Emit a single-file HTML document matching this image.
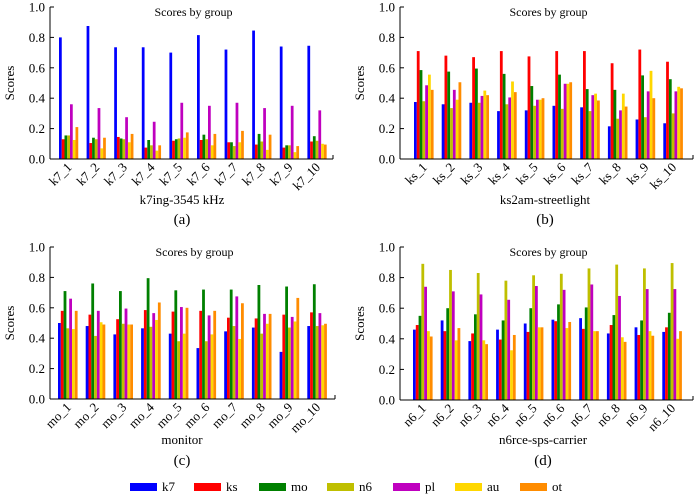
<!DOCTYPE html>
<html><head><meta charset="utf-8"><style>
html,body{margin:0;padding:0;background:#fff;}
svg{display:block;font-family:"Liberation Serif",serif;}
</style></head><body>
<svg id="chart" width="700" height="498" viewBox="0 0 700 498"></svg>
<script>
const series = ["k7","ks","mo","n6","pl","au","ot"];
const colors = ["#0000ff","#ff0000","#008000","#bfbf00","#bf00bf","#ffd700","#ff8c00"];
const yTicks = [0,0.2,0.4,0.6,0.8,1.0];
const catsA = ["k7_1","k7_2","k7_3","k7_4","k7_5","k7_6","k7_7","k7_8","k7_9","k7_10"];
const catsB = ["ks_1","ks_2","ks_3","ks_4","ks_5","ks_6","ks_7","ks_8","ks_9","ks_10"];
const catsC = ["mo_1","mo_2","mo_3","mo_4","mo_5","mo_6","mo_7","mo_8","mo_9","mo_10"];
const catsD = ["n6_1","n6_2","n6_3","n6_4","n6_5","n6_6","n6_7","n6_8","n6_9","n6_10"];
const valsA = [
[0.80,0.13,0.155,0.155,0.36,0.125,0.21],
[0.875,0.105,0.14,0.13,0.335,0.07,0.14],
[0.735,0.145,0.135,0.13,0.275,0.11,0.165],
[0.735,0.075,0.125,0.09,0.245,0.055,0.09],
[0.70,0.12,0.13,0.135,0.37,0.14,0.175],
[0.815,0.125,0.16,0.13,0.35,0.09,0.165],
[0.72,0.11,0.11,0.085,0.37,0.11,0.185],
[0.845,0.095,0.165,0.115,0.335,0.06,0.16],
[0.74,0.075,0.09,0.09,0.35,0.045,0.085],
[0.745,0.115,0.15,0.12,0.32,0.10,0.095]];
const valsB = [
[0.375,0.71,0.585,0.38,0.485,0.555,0.455],
[0.36,0.68,0.575,0.335,0.455,0.39,0.505],
[0.37,0.67,0.595,0.37,0.415,0.45,0.42],
[0.315,0.71,0.56,0.36,0.405,0.51,0.44],
[0.32,0.675,0.48,0.35,0.39,0.39,0.40],
[0.35,0.71,0.555,0.33,0.495,0.495,0.505],
[0.34,0.71,0.46,0.315,0.42,0.43,0.385],
[0.215,0.63,0.455,0.265,0.32,0.43,0.345],
[0.26,0.72,0.55,0.275,0.445,0.58,0.40],
[0.235,0.64,0.525,0.30,0.445,0.475,0.465]];
const valsC = [
[0.50,0.58,0.71,0.465,0.66,0.46,0.58],
[0.48,0.555,0.76,0.415,0.58,0.505,0.49],
[0.425,0.525,0.71,0.495,0.595,0.49,0.49],
[0.465,0.585,0.795,0.475,0.565,0.52,0.635],
[0.43,0.575,0.715,0.38,0.605,0.43,0.60],
[0.335,0.58,0.72,0.38,0.55,0.425,0.58],
[0.445,0.535,0.72,0.48,0.675,0.395,0.63],
[0.47,0.53,0.75,0.43,0.56,0.495,0.56],
[0.31,0.555,0.74,0.47,0.54,0.51,0.665],
[0.48,0.57,0.755,0.48,0.565,0.485,0.495]];
const valsD = [
[0.46,0.49,0.55,0.89,0.74,0.45,0.415],
[0.52,0.45,0.60,0.85,0.71,0.39,0.47],
[0.385,0.435,0.56,0.83,0.69,0.39,0.365],
[0.46,0.395,0.52,0.78,0.655,0.325,0.425],
[0.50,0.445,0.60,0.815,0.745,0.475,0.475],
[0.525,0.515,0.625,0.825,0.72,0.47,0.51],
[0.535,0.465,0.605,0.86,0.755,0.45,0.45],
[0.435,0.49,0.555,0.885,0.68,0.41,0.38],
[0.475,0.425,0.52,0.86,0.725,0.45,0.42],
[0.445,0.475,0.57,0.895,0.725,0.40,0.45]];

const NS="http://www.w3.org/2000/svg";
const svg=document.getElementById('chart');
function mk(tag,attrs,parent){const e=document.createElementNS(NS,tag);for(const k in attrs)e.setAttribute(k,attrs[k]);(parent||svg).appendChild(e);return e;}

const panels=[
 {id:"a",cats:catsA,vals:valsA,ax:50,right:333,top:7,bot:159,first:59,step:27.6,bw:2.75,xlabel:"k7ing-3545 kHz",lx:182,ly:204,tag:"(a)",ty:224},
 {id:"b",cats:catsB,vals:valsB,ax:400,right:693,top:7,bot:159,first:414,step:27.7,bw:2.8,xlabel:"ks2am-streetlight",lx:545,ly:204,tag:"(b)",ty:224},
 {id:"c",cats:catsC,vals:valsC,ax:50,right:335,top:247,bot:399,first:58,step:27.7,bw:2.8,xlabel:"monitor",lx:182,ly:444,tag:"(c)",ty:465},
 {id:"d",cats:catsD,vals:valsD,ax:400,right:693,top:247,bot:400,first:413,step:27.7,bw:2.8,xlabel:"n6rce-sps-carrier",lx:543,ly:444,tag:"(d)",ty:465}
];

panels.forEach(p=>{
 const g=mk('g',{});
 
 
 const y=v=>p.bot-(p.bot-p.top)*v;
 p.vals.forEach((row,i)=>{
  row.forEach((v,j)=>{
   const r=mk('rect',{x:p.first+i*p.step+j*p.bw,y:y(v),width:p.bw,height:p.bot-y(v),fill:colors[j]},g);
   
   
  });
  const cx=p.first+i*p.step+3.5*p.bw;
  const t=mk('text',{x:cx+4,y:p.bot+9,'font-size':13,'text-anchor':'end',transform:`rotate(-45 ${cx+4} ${p.bot+9})`,fill:'#000'},g);
  t.textContent=p.cats[i];
  
  
 });
 const ya=mk('line',{x1:p.ax,y1:p.top,x2:p.ax,y2:p.bot,stroke:'#000','stroke-width':1},g);
 
 
 const xa=mk('line',{x1:p.ax,y1:p.bot,x2:p.right,y2:p.bot,stroke:'#000','stroke-width':1},g);
 
 
 mk('line',{x1:p.right,y1:p.bot,x2:p.right,y2:p.bot-4,stroke:'#000'},g);
 yTicks.forEach(v=>{
  mk('line',{x1:p.ax,y1:y(v),x2:p.ax+4,y2:y(v),stroke:'#000'},g);
  const t=mk('text',{x:p.ax-5,y:y(v)+4.5,'font-size':13,'text-anchor':'end',fill:'#000'},g);
  t.textContent=v.toFixed(1);
  
  
 });
 const yl=mk('text',{x:0,y:0,'font-size':13,'text-anchor':'middle',transform:`translate(${p.ax-36},${(p.top+p.bot)/2}) rotate(-90)`},g);
 yl.textContent='Scores';
 
 
 const ti=mk('text',{x:(p.ax+p.right)/2+2,y:p.top+9,'font-size':12,'text-anchor':'middle'},g);
 ti.textContent='Scores by group';
 
 
 const xl=mk('text',{x:p.lx,y:p.ly,'font-size':13,'text-anchor':'middle'},g);
 xl.textContent=p.xlabel;
 
 
 const tg=mk('text',{x:p.lx,y:p.ty,'font-size':15,'text-anchor':'middle'},g);
 tg.textContent=p.tag;
 
 
});

const legendX=[130,194,259,327,393,455,520];
const lg=mk('g',{});


series.forEach((s,j)=>{
 const r=mk('rect',{x:legendX[j],y:483,width:27,height:8,fill:colors[j]},lg);
 
 
 const t=mk('text',{x:legendX[j]+32,y:491,'font-size':13},lg);
 t.textContent=s;
 
 
});
</script>
</body></html>
